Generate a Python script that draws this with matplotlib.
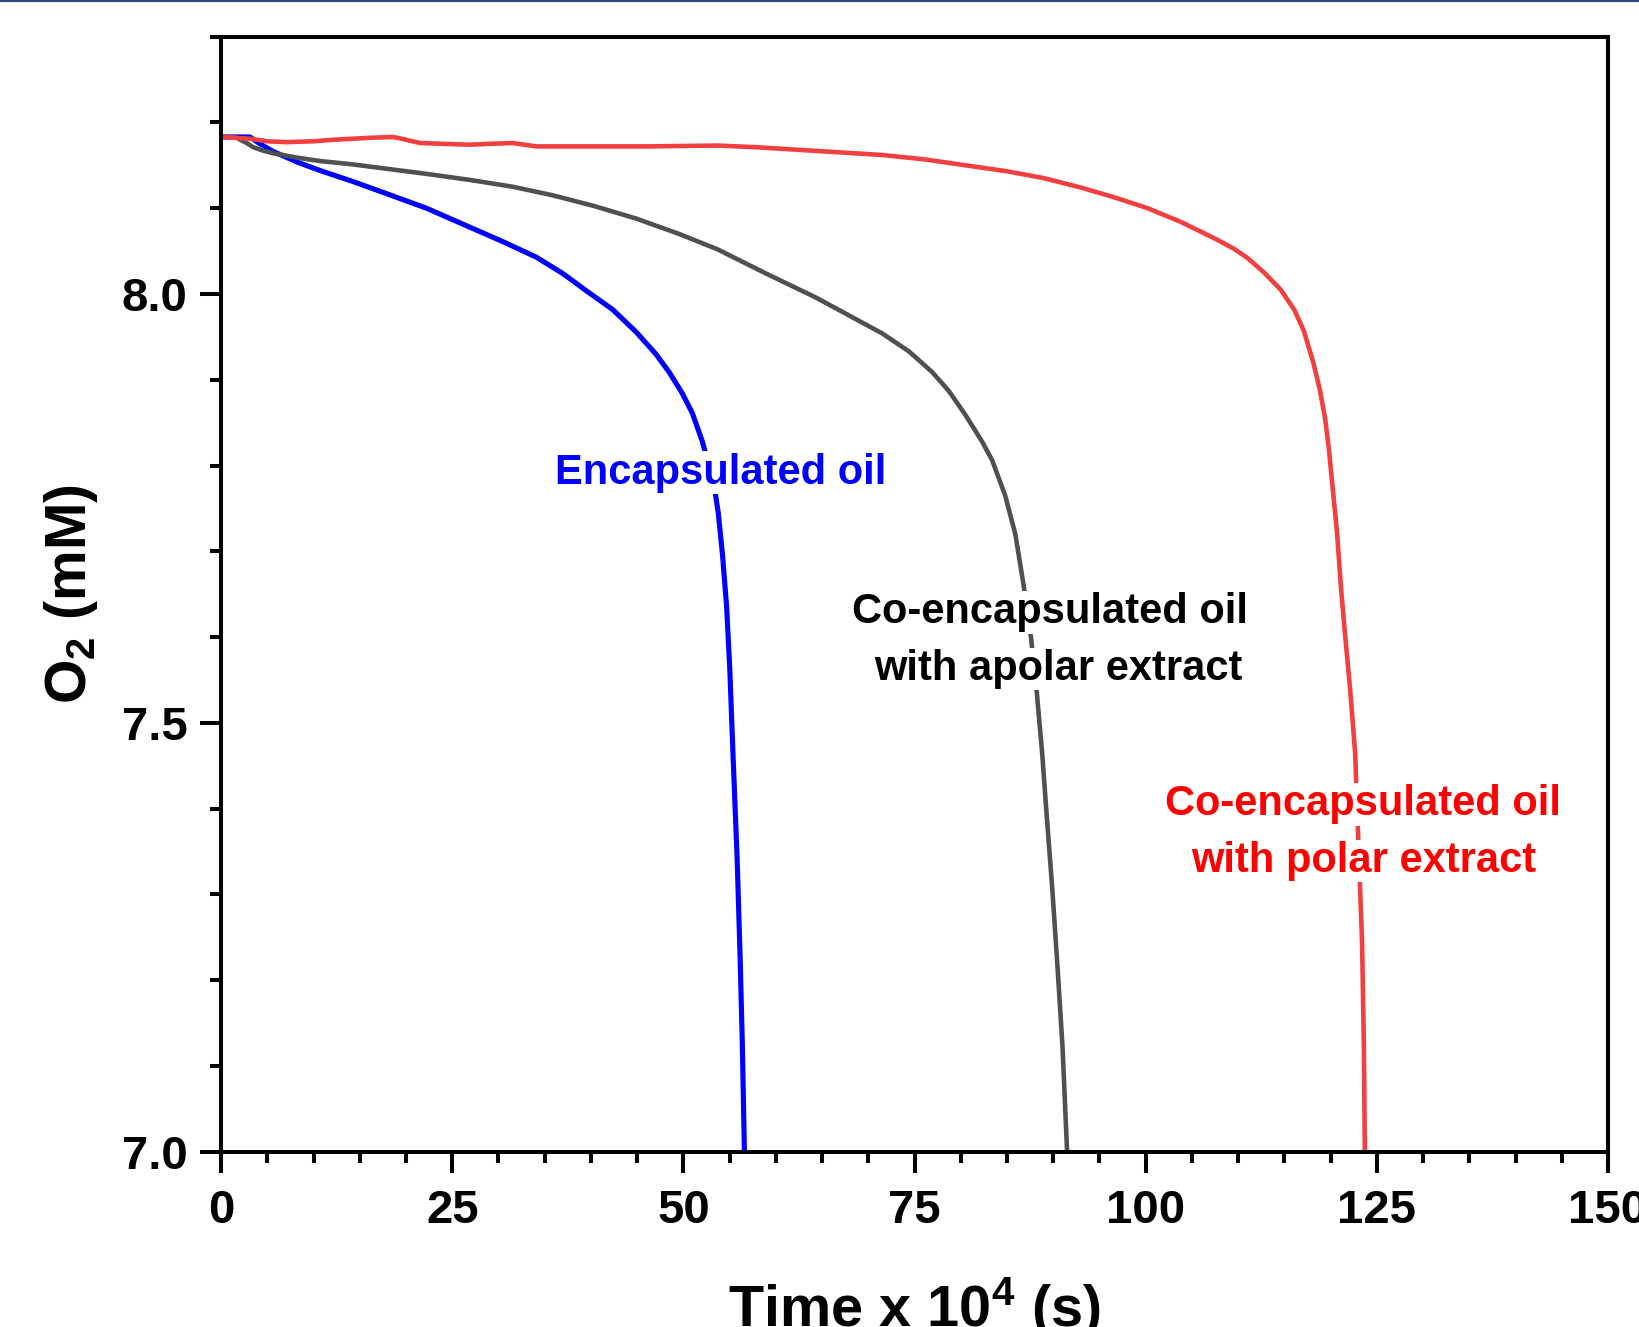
import matplotlib
matplotlib.use('Agg')
import matplotlib.pyplot as plt
from matplotlib.lines import Line2D
from matplotlib.ticker import MultipleLocator, FormatStrFormatter

# O2 consumption curves (time x 1e4 s, O2 in mM)
t_oil = [0, 3.13, 4.21, 5.65, 8.17, 10.68, 14.28, 17.88, 22.2, 26.87, 30.47,
         34.07, 36.94, 39.46, 42.33, 44.86, 47.02, 48.45, 49.89, 50.97, 52.05,
         52.8, 53.44, 53.77, 54.23, 54.68, 55.02, 55.36, 55.81, 56.15, 56.38, 56.6]
o2_oil = [8.183, 8.183, 8.175, 8.166, 8.154, 8.144, 8.131, 8.117, 8.100, 8.078, 8.061,
          8.043, 8.024, 8.004, 7.982, 7.956, 7.930, 7.909, 7.884, 7.861, 7.828,
          7.798, 7.768, 7.745, 7.696, 7.635, 7.562, 7.465, 7.343, 7.221, 7.123, 7.0]

t_apolar = [0, 1.5, 2.05, 2.77, 3.49, 4.57, 5.65, 8.17, 10.68, 14.28, 17.88, 22.2,
            26.87, 31.54, 35.86, 40.18, 44.86, 49.53, 53.7, 58.9, 64.3, 67.9, 71.5,
            74.4, 76.9, 78.7, 80.5, 82.3, 83.4, 84.8, 85.9, 86.8, 87.6, 88.2, 88.8,
            89.3, 89.9, 90.5, 91.0, 91.5]
o2_apolar = [8.183, 8.183, 8.180, 8.176, 8.171, 8.167, 8.164, 8.159, 8.155, 8.151,
             8.146, 8.140, 8.133, 8.125, 8.115, 8.103, 8.088, 8.070, 8.052, 8.024,
             7.996, 7.975, 7.954, 7.933, 7.909, 7.887, 7.859, 7.828, 7.806, 7.765,
             7.720, 7.660, 7.599, 7.538, 7.465, 7.391, 7.306, 7.209, 7.123, 7.0]

t_polar = [0, 3.1, 5.0, 7.1, 10.0, 12.5, 16.0, 18.6, 19.5, 21.5, 24.0, 26.9, 29.0,
           31.5, 34.1, 39.5, 46.0, 53.7, 58.0, 62.5, 67.0, 71.5, 76.0, 80.5, 85.0,
           89.0, 93.0, 96.5, 100.2, 103.8, 107.4, 109.5, 111.0, 112.8, 114.6, 116.1,
           117.1, 118.1, 118.8, 119.4, 119.8, 120.3, 120.7, 121.1, 121.5, 122.1,
           122.65, 123.0, 123.4, 123.6, 123.7]
o2_polar = [8.183, 8.181, 8.178, 8.177, 8.178, 8.180, 8.182, 8.183, 8.181, 8.176,
            8.175, 8.174, 8.175, 8.176, 8.172, 8.172, 8.172, 8.173, 8.171, 8.168,
            8.165, 8.162, 8.157, 8.150, 8.143, 8.135, 8.124, 8.113, 8.100, 8.084,
            8.065, 8.053, 8.042, 8.025, 8.005, 7.981, 7.957, 7.921, 7.890, 7.855,
            7.820, 7.765, 7.721, 7.660, 7.610, 7.540, 7.465, 7.360, 7.245, 7.120, 7.0]

plt.rcParams['font.family'] = ['Liberation Sans', 'DejaVu Sans']
plt.rcParams['font.weight'] = 'bold'
plt.rcParams['mathtext.fontset'] = 'custom'
plt.rcParams['mathtext.rm'] = 'Liberation Sans:bold'
plt.rcParams['mathtext.bf'] = 'Liberation Sans:bold'
plt.rcParams['mathtext.it'] = 'Liberation Sans:bold'

fig = plt.figure(figsize=(16.4, 13.27), dpi=100)
ax = fig.add_axes([0.1348, 0.1321, 0.9805 - 0.1348, 0.9724 - 0.1321])

ax.plot(t_oil, o2_oil, color='#0000FF', lw=3.7, solid_joinstyle='round')
ax.plot(t_apolar, o2_apolar, color='#505050', lw=3.3, solid_joinstyle='round')
ax.plot(t_polar, o2_polar, color='#F24040', lw=3.3, solid_joinstyle='round')

ax.set_xlim(0, 150)
ax.set_ylim(7.0, 8.3)
ax.xaxis.set_major_locator(MultipleLocator(25))
ax.xaxis.set_minor_locator(MultipleLocator(5))
ax.yaxis.set_major_locator(MultipleLocator(0.5))
ax.yaxis.set_minor_locator(MultipleLocator(0.1))
ax.yaxis.set_major_formatter(FormatStrFormatter('%.1f'))

for s in ax.spines.values():
    s.set_linewidth(2.9)
ax.tick_params(which='major', direction='out', length=15, width=2.9,
               labelsize=34)
ax.tick_params(which='minor', direction='out', length=8, width=2.9)
ax.tick_params(axis='x', which='major', pad=12)
ax.tick_params(axis='y', which='major', pad=9)

ax.set_xlabel('Time x 10$^{4}$ (s)', fontsize=41.5, fontweight='bold', labelpad=30)
ax.set_ylabel('O$_{2}$ (mM)', fontsize=41, fontweight='bold', labelpad=16)

box = dict(facecolor='white', edgecolor='none', pad=1)
fs = 30
ax.text(54.0, 7.779, 'Encapsulated oil', color='#0000FF', fontsize=fs,
        ha='center', va='baseline', bbox=box)
ax.text(89.6, 7.616, 'Co-encapsulated oil', color='black', fontsize=fs,
        ha='center', va='baseline', bbox=box)
ax.text(90.55, 7.550, 'with apolar extract', color='black', fontsize=fs,
        ha='center', va='baseline', bbox=box)
ax.text(123.5, 7.392, 'Co-encapsulated oil', color='#FF0000', fontsize=fs,
        ha='center', va='baseline', bbox=box)
ax.text(123.6, 7.326, 'with polar extract', color='#FF0000', fontsize=fs,
        ha='center', va='baseline', bbox=box)

# thin frame line along the top edge of the image
fig.add_artist(Line2D([0, 1], [0.9992, 0.9992], color='#2F4A78', lw=1.6))

fig.savefig('out.png', dpi=100)
